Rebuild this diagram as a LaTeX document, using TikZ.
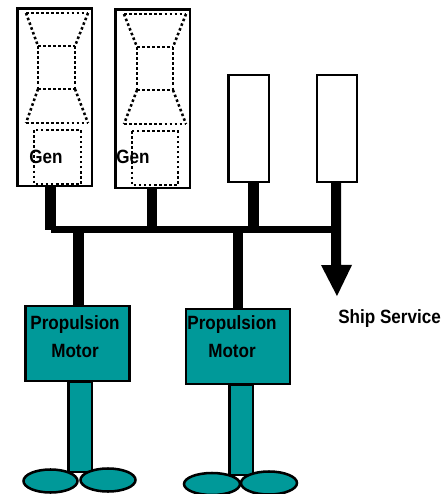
\documentclass[tikz,border=0pt]{standalone}
\usepackage{fontspec}
\setmainfont{Liberation Sans}[FakeStretch=0.89]
\definecolor{teal1}{RGB}{0,153,153}
\tikzset{
  x=0.75pt,y=-0.75pt,
  boxbase/.style={draw=black,line width=1.9pt,rectangle,inner sep=0pt,outer sep=0pt},
  unitbox/.style={boxbase,fill=white},
  motorbox/.style={boxbase,fill=teal1},
  shaftline/.style={draw=black,line width=1.9pt,fill=teal1},
  dots/.style={draw=black,line width=1.9pt,dash pattern=on 1.9pt off 1.9pt},
  barline/.style={draw=black,line width=7.6pt,line cap=butt},
  busline/.style={draw=black,line width=5.25pt,line cap=butt},
  lbl/.style={font=\bfseries\fontsize{14.4pt}{17pt}\selectfont,align=center,inner sep=0pt,text=black},
}
\begin{document}
\begin{tikzpicture}
\useasboundingbox (0,0) rectangle (442,494);
% boxes
\node[unitbox,minimum width=55.9pt,minimum height=133.1pt] (g1) at (54.75,97.25) {};
\node[unitbox,minimum width=55.9pt,minimum height=133.9pt] (g2) at (152.75,98.75) {};
\node[unitbox,minimum width=30.4pt,minimum height=80.2pt] (u3) at (248.75,128.5) {};
\node[unitbox,minimum width=30pt,minimum height=80.2pt] (u4) at (337,128.5) {};
\node[motorbox,minimum width=78pt,minimum height=56.3pt] (m1) at (77.5,343.5) {};
\node[motorbox,minimum width=78pt,minimum height=56.3pt] (m2) at (238,346.5) {};
% bus and connectors
\coordinate (j1) at (50.5,229.5);
\coordinate (j2) at (152,229.5);
\coordinate (j3) at (253.5,229.5);
\coordinate (j4) at (332,229.5);
\coordinate (d1) at (78.5,229.5);
\coordinate (d2) at (238,229.5);
\coordinate (tip) at (337,296);
\draw[barline] (g1.south -| j1) -- (j1);
\draw[barline] (g2.south -| j2) -- (j2);
\draw[barline] (u3.south -| j3) -- (j3);
\draw[busline] (j1) -- (j4);
\draw[barline] (d1) -- (m1.north -| d1);
\draw[barline] (d2) -- (m2.north -| d2);
\fill[black] (u4.south) ++(-6,0) -- ++(10,0) -- ++(0,83) -- ++(11,0) -- (tip) -- ++(-16,-31) -- ++(10,0) -- cycle;
% dotted turbines
\path[dots] (26,13) -- (88,13);
\path[dots] (26,13) -- (38,46);
\path[dots] (88,13) -- (75,46);
\path[dots] (38,46) -- (75,46);
\path[dots] (38,46) -- (38,89);
\path[dots] (75,46) -- (75,89);
\path[dots] (38,89) -- (75,89);
\path[dots] (38,89) -- (26,123);
\path[dots] (75,89) -- (88,123);
\path[dots] (26,123) -- (88,123);
\path[dots] (34,130) rectangle (81,184);
\path[dots] (124,14) -- (186,14);
\path[dots] (124,14) -- (137,47);
\path[dots] (186,14) -- (173,47);
\path[dots] (137,47) -- (173,47);
\path[dots] (137,47) -- (137,90);
\path[dots] (173,47) -- (173,90);
\path[dots] (137,90) -- (173,90);
\path[dots] (137,90) -- (124,124);
\path[dots] (173,90) -- (186,124);
\path[dots] (124,124) -- (186,124);
\path[dots] (132,131) rectangle (178,185);
\node[lbl] (gen1) at (46,157) {Gen};
\node[lbl] (gen2) at (133,157) {Gen};
% shafts and props
\path[shaftline] (68.5,381) rectangle (92,472);
\path[shaftline] (229.5,384) rectangle (253,475);
\draw[black,line width=1.9pt] (68.5,382) -- (92,382);
\draw[black,line width=1.9pt] (229.5,385) -- (253,385);
\path[shaftline] (50.5,481) ellipse [x radius=27,y radius=11.5];
\path[shaftline] (108,480) ellipse [x radius=27.5,y radius=11.5];
\path[shaftline] (212,484) ellipse [x radius=28,y radius=11];
\path[shaftline] (269,483) ellipse [x radius=28,y radius=11.5];
\node[lbl] (p1) at (75,325) {Propulsion};
\node[lbl] (q1) at (75,351) {Motor};
\node[lbl] (p2) at (232,325) {Propulsion};
\node[lbl] (q2) at (232,351) {Motor};
\node[lbl,anchor=west] (ship) at (338,319) {Ship Service};
\end{tikzpicture}
\end{document}
